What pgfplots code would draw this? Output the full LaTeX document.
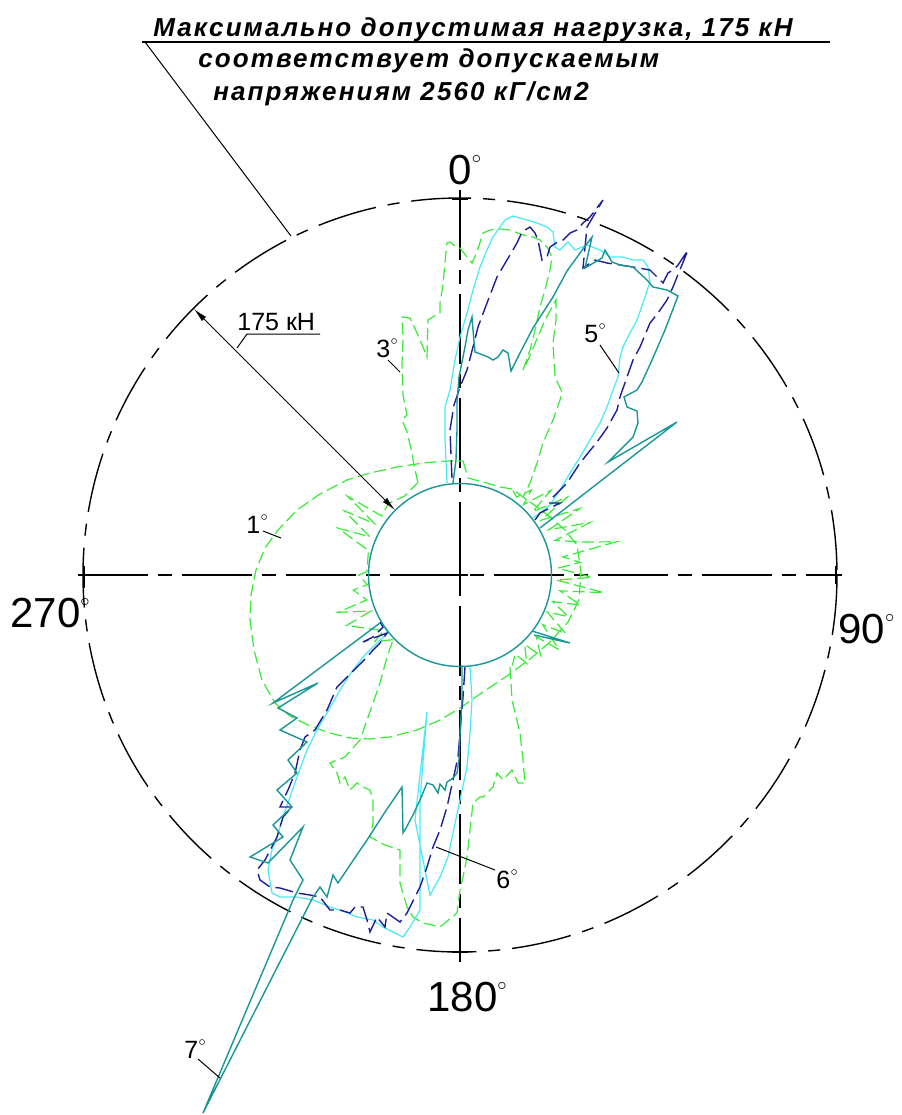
\documentclass[border=0pt]{standalone}
\usepackage{fontspec}
\setmainfont{Liberation Sans}
\newfontfamily\titlefont[LetterSpace=8]{Liberation Sans}
\usepackage{pgfplots}
\pgfplotsset{compat=1.18}
\usetikzlibrary{arrows.meta}
\definecolor{tealc}{RGB}{25,150,150}
\definecolor{navyc}{RGB}{30,30,150}
\definecolor{cyanc}{RGB}{70,235,245}
\definecolor{greenc}{RGB}{55,235,55}
\newcommand{\PX}{460+(91.5+1.6286*\thisrow{v})*sin(\thisrow{a})}
\newcommand{\PY}{575-(91.5+1.6286*\thisrow{v})*cos(\thisrow{a})}
\newcommand{\dgb}{\raisebox{10.5pt}{\fontsize{9}{9}\selectfont$\circ$}}
\newcommand{\dgs}{\raisebox{6.3pt}{\fontsize{6.5}{6.5}\selectfont$\circ$}}
\begin{document}
\begin{tikzpicture}
\begin{axis}[scale only axis, width=450.5pt, height=557.5pt,
 xmin=0,xmax=901,ymin=0,ymax=1115, y dir=reverse, hide axis, clip=false, no markers]
\path (axis cs:0,0) rectangle (axis cs:901,1115);
% grid: outer circle and axes
\draw[black, line width=0.7pt, dash pattern=on 30pt off 6pt on 6pt off 6pt] (axis cs:460,575) circle [radius=377];
\draw[black, line width=0.7pt, dash pattern=on 35pt off 5pt on 7pt off 5pt] (axis cs:460,190) -- (axis cs:460,962);
\draw[black, line width=0.7pt, dash pattern=on 35pt off 5pt on 7pt off 5pt] (axis cs:78,575) -- (axis cs:842,575);
\draw[black, line width=0.7pt] (axis cs:452,199) -- (axis cs:468,199) (axis cs:452,952) -- (axis cs:468,952)
  (axis cs:84,566) -- (axis cs:84,588) (axis cs:836,566) -- (axis cs:836,584)
  (axis cs:452,575) -- (axis cs:468,575) (axis cs:460,567) -- (axis cs:460,583);
% 1 deg
\addplot[greenc, line width=0.6pt, dash pattern=on 6pt off 2.5pt] coordinates {
(463,461)(468,478)(487,483)(500,487)(512,489)(523,497)(537,507)(550,517)(565,530)(577,545)(581,572)(579,600)(568,622)(550,642)(530,659)(507,676)(483,692)(460,708)(440,720)(417,730)(390,737)(370,739)(350,738)(330,733)(310,726)(290,716)(275,703)(262,680)(254,650)(250,620)(251,595)(256,570)(265,548)(278,530)(297,510)(320,494)(347,480)(370,473)(397,467)(423,463)(447,461)(463,461)};
% 3 deg
\addplot[greenc, line width=0.6pt, dash pattern=on 6pt off 2.5pt] coordinates {
(418,483)(414,465)(412,453)(407,432)(402,420)(407,415)(403,395)(402,363)(403,340)(402,317)(410,318)(417,333)(423,347)(427,357)(428,320)(436,315)(440,313)(440,303)(443,285)(445,262)(447,243)(450,242)(455,246)(460,248)(467,257)(472,263)(477,252)(483,233)(490,230)(500,229)(510,230)(523,235)(533,237)(540,240)(547,247)(552,257)(550,270)(545,290)(540,307)(535,330)(530,350)(523,370)(528,360)(545,320)(556,300)(556,320)(553,343)(555,377)(562,392)(560,400)(553,420)(543,443)(537,463)(530,483)(523,497)};
\addplot[greenc, line width=0.6pt, dash pattern=on 6pt off 2.5pt] table[row sep=\\, x expr=\PX, y expr=\PY] {
a v\\ 32 5\\ 36 3\\ 40 12\\ 42 2\\ 47 20\\ 49 3\\ 54 25\\ 56 4\\ 61 28\\ 63 5\\ 68 30\\ 70 6\\ 75 22\\ 78 42\\ 80 8\\ 84 18\\ 86 4\\ 91 25\\ 93 3\\ 97 33\\ 99 6\\ 104 20\\ 106 3\\ 111 15\\ 113 2\\ 119 18\\ 121 3\\ 127 20\\ 129 4\\ 135 14\\ 137 2\\ 143 12\\ 145 3\\ 150 8\\
};
\addplot[greenc, line width=0.6pt, dash pattern=on 6pt off 2.5pt] coordinates {
(510,667)(512,700)(520,733)(523,760)(525,783)(518,783)(512,770)(503,780)(497,773)(493,787)(483,797)(480,797)(473,803)(470,830)(467,857)(463,877)(460,890)(457,913)(440,927)(423,923)(413,917)(407,907)(400,883)(400,850)(385,845)(370,837)(373,823)(373,800)(370,790)(363,787)(357,783)(350,790)(345,777)(340,783)(337,773)(330,763)(345,757)(360,740)(373,703)(380,683)(387,657)(393,640)};
\addplot[greenc, line width=0.6pt, dash pattern=on 6pt off 2.5pt] table[row sep=\\, x expr=\PX, y expr=\PY] {
a v\\ 226 1\\ 232 10\\ 234 2\\ 246 20\\ 248 3\\ 253 22\\ 255 3\\ 262 10\\ 264 1\\ 270 6\\ 272 1\\ 285 2\\ 291 24\\ 293 4\\ 299 25\\ 301 5\\ 305 28\\ 307 4\\ 315 6\\ 325 3\\ 335 6\\
};
% 5 deg (cyan)
\addplot[cyanc, line width=0.6pt] coordinates {
(447,483)(445,440)(445,407)(450,390)(455,360)(460,337)(467,313)(473,290)(480,267)(487,250)(493,237)(500,227)(505,220)(513,216)(527,220)(537,223)(547,227)(553,232)(555,247)(560,250)(568,242)(575,250)(587,245)(600,250)(610,257)(623,257)(633,260)(643,260)(648,267)(650,282)(643,303)(637,320)(630,333)(623,347)(620,357)(618,377)(613,390)(607,407)(600,423)(590,440)(580,457)(570,473)(560,490)(550,505)(540,513)(533,518)};
\addplot[cyanc, line width=0.6pt] coordinates {
(470,667)(472,700)(470,733)(467,767)(460,800)(453,833)(448,857)(440,877)(430,895)(415,820)(427,712)(420,800)(420,910)(410,927)(403,937)(393,932)(383,927)(373,920)(357,917)(345,912)(330,907)(313,900)(297,897)(280,897)(272,893)(268,870)(272,850)(277,837)(283,817)(290,797)(297,777)(307,750)(317,730)(327,713)(340,690)(353,670)(363,657)(370,650)(380,640)(388,633)(385,628)};
% 6 deg (navy dashed)
\addplot[navyc, line width=0.7pt, dash pattern=on 9pt off 3pt] coordinates {
(452,478)(451,455)(450,430)(454,405)(460,387)(467,370)(473,347)(478,327)(487,303)(497,277)(507,260)(517,243)(522,232)(530,227)(535,233)(538,240)(542,260)(547,257)(550,247)(556,243)(563,240)(570,233)(577,230)(583,223)(590,217)(603,200)(587,227)(583,268)(595,260)(607,263)(620,265)(633,267)(650,270)(660,280)(663,283)(668,273)(673,270)(678,265)(688,250)(677,277)(673,287)(667,300)(658,313)(650,323)(640,347)(633,360)(627,377)(620,397)(617,410)(607,428)(597,442)(580,463)(567,483)(553,497)(550,503)(560,503)(540,513)(535,520)};
\addplot[navyc, line width=0.7pt, dash pattern=on 9pt off 3pt] coordinates {
(465,667)(463,697)(460,733)(458,757)(453,780)(447,807)(440,830)(433,847)(427,867)(420,887)(412,903)(407,913)(400,922)(387,913)(385,927)(377,917)(370,932)(367,920)(363,907)(355,907)(350,913)(340,910)(330,910)(320,897)(310,895)(297,893)(280,888)(270,887)(260,880)(257,870)(265,860)(277,837)(283,817)(292,807)(280,807)(288,790)(295,773)(300,750)(305,737)(315,730)(327,710)(337,687)(357,667)(367,657)(373,650)(380,643)(387,633)(363,642)(373,637)(383,627)(380,622)};
% 7 deg (teal)
\draw[tealc, line width=0.7pt] (axis cs:460,575) circle [radius=91.5];
\addplot[tealc, line width=0.7pt] coordinates {
(453,483)(456,460)(457,430)(457,403)(459,377)(465,347)(468,330)(472,317)(473,330)(475,352)(483,355)(488,357)(493,360)(498,357)(503,350)(508,353)(511,371)(520,353)(533,328)(553,297)(567,271)(580,253)(592,237)(585,268)(602,258)(605,250)(612,262)(620,265)(633,267)(647,280)(653,287)(667,290)(678,296)(665,330)(652,360)(642,382)(637,390)(624,397)(627,407)(637,411)(638,423)(633,437)(608,462)(677,422)(540,528)};
\addplot[tealc, line width=0.7pt] coordinates {
(462,665)(462,700)(460,735)(459,760)(457,773)(453,778)(447,782)(445,790)(440,784)(438,793)(433,785)(427,783)(420,800)(413,815)(406,828)(403,833)(402,787)(385,812)(367,840)(352,862)(338,883)(333,875)(327,897)(320,887)(313,897)(203,1113)(293,900)(303,880)(290,860)(303,827)(268,863)(250,857)(283,837)(273,825)(292,807)(277,790)(297,773)(288,760)(307,742)(280,730)(297,718)(278,708)(318,683)(273,703)(380,623)};
\addplot[tealc, line width=0.7pt] coordinates {(532,631)(570,643)(534,635)};
% title
\draw[black, line width=0.7pt] (axis cs:142,42) -- (axis cs:830,42);
\draw[black, line width=0.5pt] (axis cs:145,42) -- (axis cs:291,236);
\node[anchor=base west, inner sep=0pt, font=\titlefont\fontsize{13}{15}\selectfont\bfseries\itshape] at (axis cs:153,36) {Максимально допустимая нагрузка, 175 кН};
\node[anchor=base west, inner sep=0pt, font=\titlefont\fontsize{13}{15}\selectfont\bfseries\itshape] at (axis cs:198,67) {соответствует допускаемым};
\node[anchor=base west, inner sep=0pt, font=\titlefont\fontsize{13}{15}\selectfont\bfseries\itshape] at (axis cs:213,100) {напряжениям 2560 кГ/см2};
% dimension 175 kN
\draw[black, line width=0.5pt, {Latex[length=7pt,width=3pt]}-{Latex[length=7pt,width=3pt]}] (axis cs:194,309) -- (axis cs:395,510);
\draw[black, line width=0.5pt] (axis cs:237,348) -- (axis cs:247,334) -- (axis cs:320,334);
\node[anchor=base west, inner sep=0pt, font=\fontsize{12.5}{14}\selectfont] at (axis cs:237,330) {175 кН};
% big labels
\node[anchor=base west, inner sep=0pt, font=\fontsize{21}{24}\selectfont] at (axis cs:448,184) {0\dgb};
\node[anchor=base west, inner sep=0pt, font=\fontsize{21}{24}\selectfont] at (axis cs:838,643) {90\dgb};
\node[anchor=base west, inner sep=0pt, font=\fontsize{21}{24}\selectfont] at (axis cs:10,627) {270\dgb};
\node[anchor=base west, inner sep=0pt, font=\fontsize{21}{24}\selectfont] at (axis cs:427,1011) {180\dgb};
% small labels
\node[anchor=base west, inner sep=0pt, font=\fontsize{12.5}{14}\selectfont] at (axis cs:246,533) {1\dgs};
\draw[black, line width=0.5pt] (axis cs:263,531) -- (axis cs:281,538);
\node[anchor=base west, inner sep=0pt, font=\fontsize{12.5}{14}\selectfont] at (axis cs:376,357) {3\dgs};
\draw[black, line width=0.5pt] (axis cs:388,360) -- (axis cs:400,372);
\node[anchor=base west, inner sep=0pt, font=\fontsize{12.5}{14}\selectfont] at (axis cs:584,342) {5\dgs};
\draw[black, line width=0.5pt] (axis cs:600,345) -- (axis cs:619,373);
\node[anchor=base west, inner sep=0pt, font=\fontsize{12.5}{14}\selectfont] at (axis cs:496,888) {6\dgs};
\draw[black, line width=0.5pt] (axis cs:495,870) -- (axis cs:436,847);
\node[anchor=base west, inner sep=0pt, font=\fontsize{12.5}{14}\selectfont] at (axis cs:184,1058) {7\dgs};
\draw[black, line width=0.5pt] (axis cs:198,1059) -- (axis cs:220,1078);
\end{axis}
\end{tikzpicture}
\end{document}
